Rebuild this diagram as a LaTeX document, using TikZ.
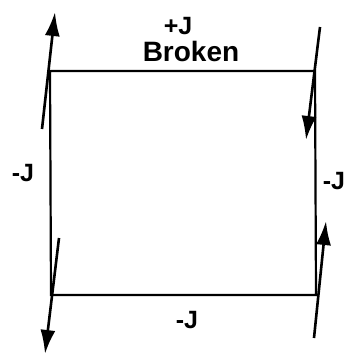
\documentclass[tikz,border=0pt]{standalone}
\usepackage{fontspec}
\setmainfont{Liberation Sans}
\usetikzlibrary{arrows.meta}
\begin{document}
\begin{tikzpicture}[x=1pt,y=-1pt,
  bond/.style={line width=2.2pt},
  spin/.style={line width=2.6pt,-{Latex[length=24pt,width=15pt]}},
  lab/.style={font=\bfseries\fontsize{25}{27}\selectfont, inner sep=0pt}]
\useasboundingbox (0,0) rectangle (344,356);
\coordinate (tl) at (50,71);
\coordinate (tr) at (315,71);
\coordinate (br) at (316,295);
\coordinate (bl) at (51,295);
\draw[bond] (tl) -- (tr) -- (br) -- (bl) -- cycle;
% spins
\coordinate (s1a) at (42,129); \coordinate (s1b) at (55,12);
\coordinate (s2a) at (320,27); \coordinate (s2b) at (306,140);
\coordinate (s3a) at (59,238); \coordinate (s3b) at (45,354);
\coordinate (s4a) at (314,338); \coordinate (s4b) at (326,221);
\draw[spin] (s1a) -- (s1b);
\draw[spin] (s2a) -- (s2b);
\draw[spin] (s3a) -- (s3b);
\draw[spin] (s4a) -- (s4b);
% labels
\node[lab] (jt) at (178,26) {+J};
\node[lab, font=\bfseries\fontsize{28}{30}\selectfont] (broken) at (191,51) {Broken};
\node[lab] (jl) at (23,173) {-J};
\node[lab] (jr) at (334,181) {-J};
\node[lab] (jb) at (187,320) {-J};
\end{tikzpicture}
\end{document}
